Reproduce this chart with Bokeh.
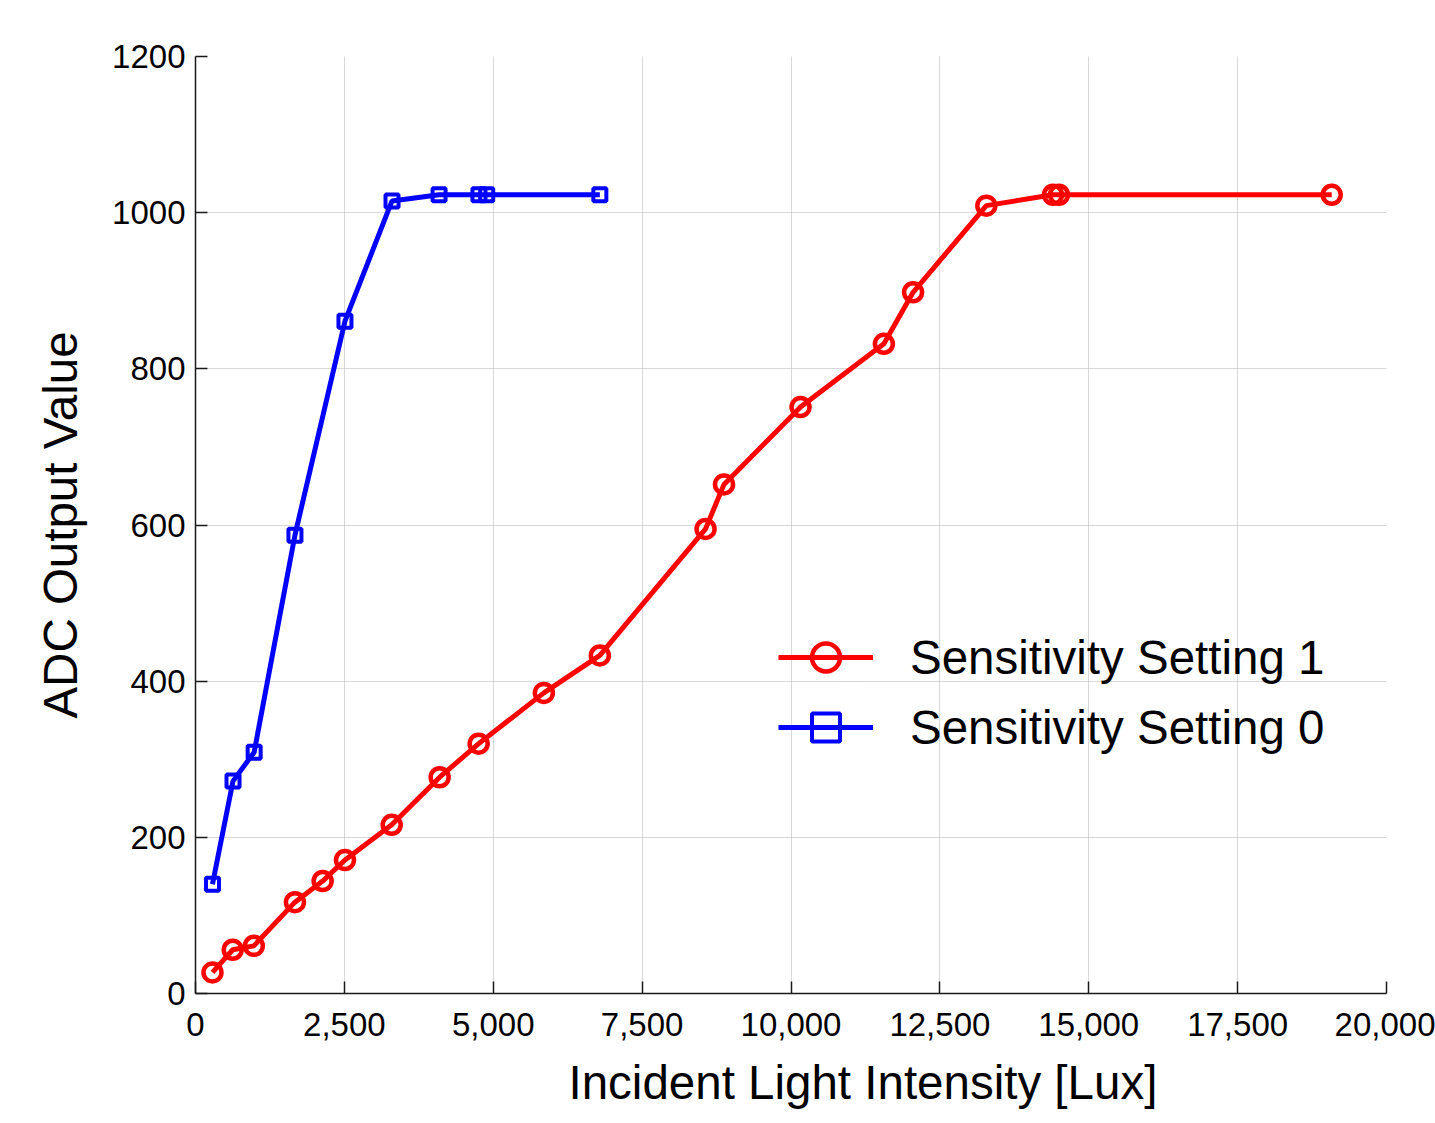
from bokeh.plotting import figure
from bokeh.models import Range1d, SingleIntervalTicker, NumeralTickFormatter, Title, Legend, LegendItem
from bokeh.embed import file_html
from bokeh.resources import INLINE

# Data
s1_x = [285, 625, 980, 1670, 2135, 2510, 3295, 4100, 4755, 5850, 6790, 8565, 8875,
        10160, 11560, 12050, 13280, 14400, 14500, 19080]
s1_y = [27, 56, 61, 117, 144, 171, 216, 277, 320, 385, 433, 595, 652,
        751, 832, 898, 1009, 1023, 1023, 1023]
s0_x = [285, 630, 985, 1670, 2510, 3300, 4090, 4760, 4890, 6790]
s0_y = [140, 272, 309, 587, 861, 1015, 1023, 1023, 1023, 1023]
s1_label = "Sensitivity Setting 1"
s0_label = "Sensitivity Setting 0"
x_title = "Incident Light Intensity [Lux]"
y_title = "ADC Output Value"

FONT = "Liberation Sans"

p = figure(width=1435, height=1123, output_backend="svg", toolbar_location=None,
           x_range=Range1d(0, 20000), y_range=Range1d(0, 1200),
           min_border_left=195, min_border_right=49, min_border_top=56, min_border_bottom=130)
p.outline_line_color = None
p.background_fill_color = "white"

# axes
for ax in (p.xaxis[0], p.yaxis[0]):
    ax.major_tick_in = 12
    ax.major_tick_out = 0
    ax.minor_tick_line_color = None
    ax.axis_line_width = 1.5
    ax.axis_line_color = "#1a1a1a"
    ax.major_tick_line_color = "#1a1a1a"
    ax.major_tick_line_width = 1.5
    ax.major_label_text_font = FONT
    ax.major_label_text_font_size = "33px"
    ax.major_label_text_color = "black"

p.xaxis.ticker = SingleIntervalTicker(interval=2500)
p.xaxis.formatter = NumeralTickFormatter(format="0,0")
p.xaxis.major_label_standoff = 15
p.yaxis.ticker = SingleIntervalTicker(interval=200)
p.yaxis.major_label_standoff = 6

p.yaxis.axis_label = y_title
p.yaxis.axis_label_text_font = FONT
p.yaxis.axis_label_text_font_size = "47.5px"
p.yaxis.axis_label_text_font_style = "normal"
p.yaxis.axis_label_text_color = "black"
p.yaxis.axis_label_standoff = 22

# grid
for g in (p.xgrid[0], p.ygrid[0]):
    g.grid_line_color = "#b0b0b0"
    g.grid_line_dash = "1 1"
    g.grid_line_width = 1

# series
r1l = p.line(s1_x, s1_y, line_color="#ff0000", line_width=5)
r1m = p.scatter(s1_x, s1_y, marker="circle", size=18, line_color="#ff0000", line_width=4.5,
                fill_alpha=0)
r0l = p.line(s0_x, s0_y, line_color="#0000ff", line_width=5)
r0m = p.scatter(s0_x, s0_y, marker="square", size=13, line_color="#0000ff", line_width=4,
                fill_alpha=0)

legend = Legend(items=[LegendItem(label=s1_label, renderers=[r1l, r1m]),
                       LegendItem(label=s0_label, renderers=[r0l, r0m])],
                location=(583, 231), orientation="vertical",
                background_fill_alpha=0, border_line_alpha=0,
                padding=0, margin=0, spacing=0,
                glyph_width=95, glyph_height=70, label_height=70,
                label_standoff=37, label_text_font=FONT, label_text_font_size="47.5px",
                label_text_color="black", label_text_baseline="middle")
p.add_layout(legend, "center")

# x axis title, placed off-centre as in the reference
p.add_layout(Title(text=x_title, align="left", offset=373, standoff=30,
                   text_font=FONT, text_font_size="47.5px", text_font_style="normal",
                   text_color="black"), "below")

open("out.html", "w").write(file_html(p, INLINE))
